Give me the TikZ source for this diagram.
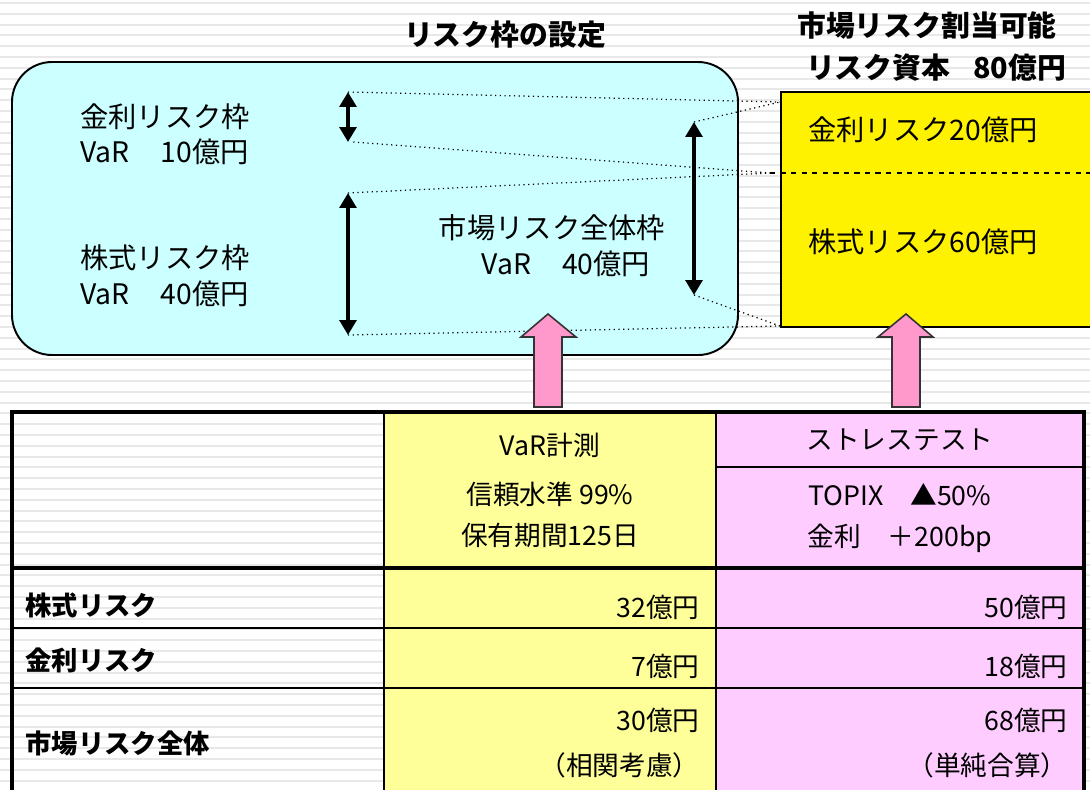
\documentclass[tikz,border=0pt]{standalone}
\usepackage{fontspec}
\setmainfont{Noto Sans CJK JP}
\usetikzlibrary{arrows.meta}
\definecolor{cyanbox}{HTML}{CCFFFF}
\definecolor{paleylw}{HTML}{FFFF99}
\definecolor{palepink}{HTML}{FFCCFF}
\definecolor{pinkarrow}{HTML}{FF99CC}
\tikzset{
  big/.style={font=\fontsize{16.1}{18}\selectfont, inner sep=0pt},
  title/.style={big, font=\fontsize{16.4}{18}\selectfont\bfseries},
  cell/.style={font=\fontsize{15.2}{17}\selectfont, inner sep=0pt},
  rowlbl/.style={cell, font=\fontsize{15}{17}\selectfont\bfseries, anchor=west},
  val/.style={cell, anchor=east},
  stripe/.style={gray!18, line width=1.1pt},
  span/.style={<->, line width=2.3pt},
  guide/.style={dotted, line width=0.7pt},
  uparrow/.style={fill=pinkarrow, draw=black!80, line width=0.9pt}
}
\begin{document}
\begin{tikzpicture}[x=0.02cm,y=-0.02cm,>={Triangle[width=9.5pt,length=8.5pt]}]
	\useasboundingbox (0,0) rectangle (1090,789);
	\fill[white] (0,0) rectangle (1090,789);
	\foreach \k in {0,...,72}
		\draw[stripe] (0,{3+10.8*\k}) -- (1090,{3+10.8*\k});

	\draw[fill=cyanbox, line width=1.1pt, rounded corners=0.8cm] (12,62) rectangle (738,355);
	\draw[fill=yellow, line width=1pt] (1100,92) -- (781,92) -- (781,327) -- (1100,327);

	\coordinate (a1t) at (348,92);
	\coordinate (a1b) at (348,142);
	\coordinate (a2t) at (348,193);
	\coordinate (a2b) at (348,335);
	\coordinate (a3t) at (694,122);
	\coordinate (a3b) at (694,295);
	\coordinate (ytop) at (780,102);
	\coordinate (ymid) at (770,173);
	\coordinate (ybot) at (780,326);
	\coordinate (yend) at (1090,173);

	\draw[dashed, line width=0.8pt] (ymid) -- (yend);
	\draw[guide] (a1t) -- (ytop);
	\draw[guide] (a3t) -- (ytop);
	\draw[guide] ([xshift=3pt]a1b) -- (ymid);
	\draw[guide] (a2t) -- (ymid);
	\draw[guide] (a2b) -- (ybot);
	\draw[guide] (a3b) -- (ybot);

	\draw[span] (a1t) -- (a1b);
	\draw[span] (a2t) -- (a2b);
	\draw[span] (a3t) -- (a3b);

	\node[title] (t1) at (505,35) {リスク枠の設定};
	\node[title] (t2) at (927,25) {市場リスク割当可能};
	\node[title] (t3) at (936,68) {リスク資本\hspace{0.8em}80億円};

	\node[big, anchor=west] (ir) at (80,117) {金利リスク枠};
	\node[big, anchor=west] (irv) at (80,152) {VaR\hspace{1.1em}10億円};
	\node[big, anchor=west] (eq) at (80,258) {株式リスク枠};
	\node[big, anchor=west] (eqv) at (80,294) {VaR\hspace{1.1em}40億円};
	\node[big] (all) at (552,228) {市場リスク全体枠};
	\node[big] (allv) at (566,264) {VaR\hspace{1.1em}40億円};

	\node[big, anchor=west] (yir) at (808,130) {金利リスク20億円};
	\node[big, anchor=west] (yeq) at (808,242) {株式リスク60億円};

	\draw[uparrow] (534,407) -- (534,337) -- (521,337) -- (548,314) -- (576,337) -- (562,337) -- (562,407) -- cycle;
	\draw[uparrow] (892,407) -- (892,337) -- (878,337) -- (906,314) -- (933,337) -- (920,337) -- (920,407) -- cycle;

	\fill[paleylw] (384,412) rectangle (716,800);
	\fill[palepink] (716,412) rectangle (1084,800);
	\draw[line width=1.6pt] (384,412) -- (384,800);
	\draw[line width=1.6pt] (716,412) -- (716,800);
	\draw[line width=1pt] (716,467) -- (1084,467);
	\draw[line width=2.2pt] (12,568) -- (1084,568);
	\draw[line width=1.5pt] (12,628) -- (1084,628);
	\draw[line width=1.5pt] (12,688) -- (1084,688);
	\draw[line width=2.2pt] (12,800) -- (12,412) -- (1084,412) -- (1084,800);

	\node[cell] (h1) at (550,445) {VaR計測};
	\node[cell] (h2) at (550,494) {信頼水準 99\%};
	\node[cell] (h3) at (550,535) {保有期間125日};
	\node[cell] (s1) at (900,440) {ストレステスト};
	\node[cell] (s2) at (900,495) {TOPIX\hspace{1em}▲50\%};
	\node[cell] (s3) at (900,538) {金利\hspace{1em}＋200bp};

	\node[rowlbl] (r1) at (25,605) {株式リスク};
	\node[rowlbl] (r2) at (25,660) {金利リスク};
	\node[rowlbl] (r3) at (25,743) {市場リスク全体};
	\node[val] (v1) at (700,607) {32億円};
	\node[val] (v2) at (700,666) {7億円};
	\node[val] (v3) at (700,720) {30億円};
	\node[val] (v4) at (700,765) {（相関考慮）};
	\node[val] (w1) at (1068,607) {50億円};
	\node[val] (w2) at (1068,666) {18億円};
	\node[val] (w3) at (1068,720) {68億円};
	\node[val] (w4) at (1068,765) {（単純合算）};
\end{tikzpicture}
\end{document}
